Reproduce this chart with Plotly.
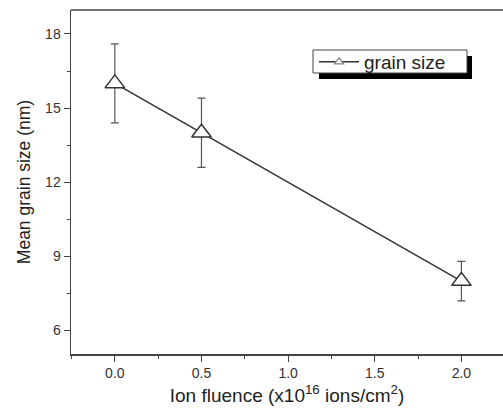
import plotly.graph_objects as go

fluence = [0.0, 0.5, 2.0]
grain_size = [16.0, 14.0, 8.0]
grain_err = [1.6, 1.4, 0.8]
x_ticks = [0.0, 0.5, 1.0, 1.5, 2.0]
x_ticklabels = ["0.0", "0.5", "1.0", "1.5", "2.0"]
y_ticks = [6, 9, 12, 15, 18]

W, H = 503, 419
ml, mr, mt, mb = 71, 0, 10, 65
pw, ph = W - ml - mr, H - mt - mb

def px2paper(x, y):
    return (x - ml) / pw, (H - mb - y) / ph

ink = "#333333"
fig = go.Figure()
fig.add_trace(go.Scatter(
    x=fluence, y=grain_size, name="grain size", mode="lines+markers",
    showlegend=False,
    line=dict(color=ink, width=1.5),
    marker=dict(symbol="triangle-up", size=17, color="white",
                line=dict(color=ink, width=1.5)),
    error_y=dict(type="data", array=grain_err, visible=True,
                 color="#555555", thickness=1.2, width=4),
))
# legend-only entry (smaller symbol like the reference legend)
fig.add_trace(go.Scatter(
    x=[None], y=[None], name="grain size", mode="lines+markers",
    line=dict(color=ink, width=1.5),
    marker=dict(symbol="triangle-up", size=8, color="white",
                line=dict(color="#888888", width=1.2)),
))

# mask the right edge (the reference shows no right frame line)
mx0, _ = px2paper(496, 0)
fig.add_shape(type="rect", xref="paper", yref="paper",
              x0=mx0, x1=1.05, y0=0.006, y1=1.05,
              fillcolor="white", line=dict(width=0), layer="above")
# top frame line
fig.add_shape(type="line", xref="paper", yref="paper", x0=0, x1=1, y0=1, y1=1,
              line=dict(color="#444444", width=1.5), layer="above")

# legend box with drop shadow
bx0, by0 = px2paper(313, 50)
bx1, by1 = px2paper(467, 73)
sx0, sy0 = px2paper(319, 56)
sx1, sy1 = px2paper(472, 79)
fig.add_shape(type="rect", xref="paper", yref="paper",
              x0=sx0, y0=sy1, x1=sx1, y1=sy0,
              fillcolor="black", line=dict(width=0), layer="above")
fig.add_shape(type="rect", xref="paper", yref="paper",
              x0=bx0, y0=by1, x1=bx1, y1=by0,
              fillcolor="white", line=dict(color="#444444", width=1), layer="above")

lx, ly = px2paper(314, 62)
font = "Liberation Sans, Arial, sans-serif"
fig.update_layout(
    width=W, height=H,
    margin=dict(l=ml, r=mr, t=mt, b=mb),
    paper_bgcolor="white", plot_bgcolor="white",
    font=dict(family=font, color=ink),
    showlegend=True,
    legend=dict(x=lx, y=ly, xanchor="left", yanchor="middle",
                bgcolor="rgba(0,0,0,0)", borderwidth=0,
                font=dict(size=19, family=font, color="#222222"),
                itemwidth=40, tracegroupgap=0),
    xaxis=dict(range=[-0.253, 2.24], tickvals=x_ticks, ticktext=x_ticklabels,
               ticks="outside", ticklen=6, tickwidth=1, tickcolor="#444444",
               showline=True, linecolor="#444444", linewidth=1.5, mirror=False,
               showgrid=False, zeroline=False, automargin=False,
               tickfont=dict(size=14, color=ink),
               minor=dict(dtick=0.25, tick0=0, ticks="outside", ticklen=3,
                          tickcolor="#444444", showgrid=False),
               title=dict(text="Ion fluence (x10<sup>16</sup> ions/cm<sup>2</sup>)",
                          font=dict(size=19, color="#222222"), standoff=8)),
    yaxis=dict(range=[5.05, 18.97], tickvals=y_ticks,
               ticks="outside", ticklen=6, tickwidth=1, tickcolor="#444444",
               showline=True, linecolor="#444444", linewidth=1.5, mirror=False,
               showgrid=False, zeroline=False, automargin=False,
               tickfont=dict(size=14, color=ink),
               minor=dict(dtick=1.5, tick0=0, ticks="outside", ticklen=3,
                          tickcolor="#444444", showgrid=False),
               title=dict(text="Mean grain size (nm)",
                          font=dict(size=17.5, color="#222222"), standoff=10)),
)

fig.write_html("out.html", config={"displayModeBar": False, "staticPlot": True},
               post_script="document.body.style.margin='0';document.body.style.overflow='hidden';")
